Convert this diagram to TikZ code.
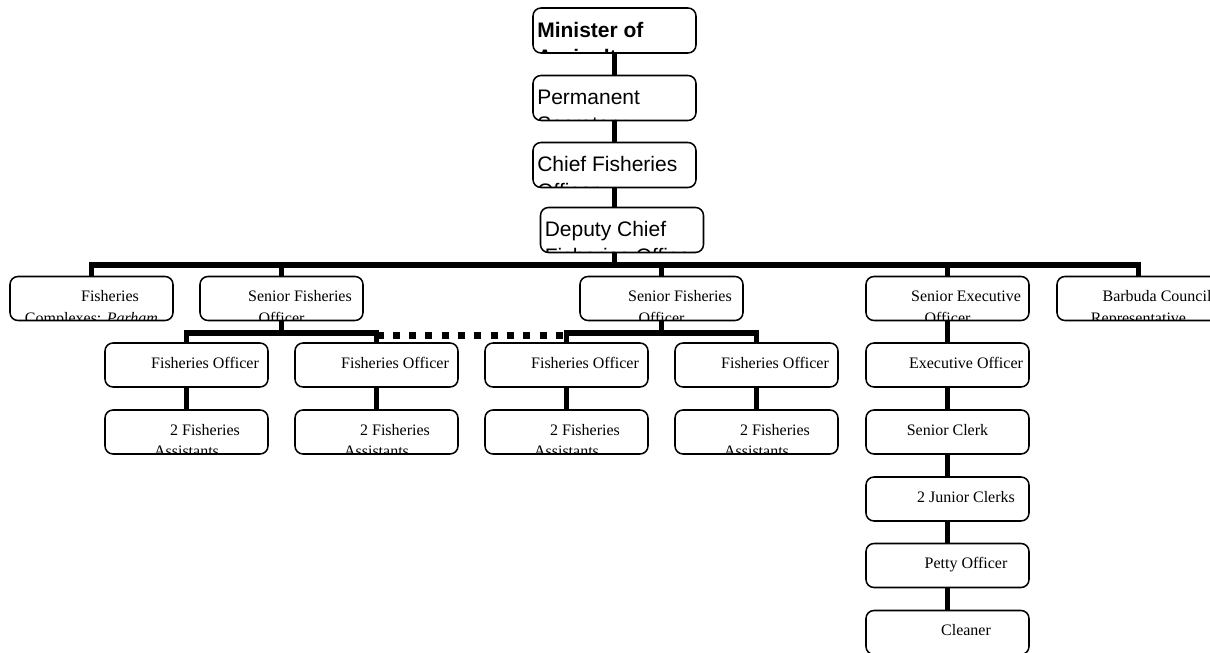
\documentclass[tikz,border=0pt]{standalone}
\usepackage{fontspec}
\setmainfont{Liberation Serif}
\newfontfamily\sansf{Liberation Sans}
\usetikzlibrary{calc}
\tikzset{
 box/.style={draw, line width=1.15pt, rounded corners=6pt, fill=white,
   minimum width=122.25pt, minimum height=33pt, inner sep=0pt, outer sep=0pt},
 topbox/.style={box, minimum height=33.75pt},
 conn/.style={line width=4.2pt},
 dashconn/.style={line width=5.25pt, dash pattern=on 5.25pt off 6.975pt},
 serift/.style={inner sep=0pt, font=\fontsize{12pt}{15pt}\selectfont},
 sanst/.style={inner sep=0pt, font=\sansf\fontsize{15.75pt}{18pt}\selectfont},
}
% sans box text: two lines, left aligned, clipped by the box
\newcommand\sanstext[3]{%
 \begin{scope}
 \clip[rounded corners=6pt] (#1.north west) rectangle (#1.south east);
 \node[sanst, anchor=base west] (#1-a) at ($(#1.north west)+(4,29)$) {#2};
 \node[sanst, anchor=base west] (#1-b) at ($(#1.north west)+(4,56)$) {#3};
 \end{scope}}
% serif box text: two lines
\newcommand\sertwo[3]{%
 \begin{scope}
 \clip[rounded corners=6pt] (#1.north west) rectangle (#1.south east);
 \node[serift, anchor=base] (#1-a) at ($(#1.north)+(18.5,25)$) {#2};
 \node[serift, anchor=base] (#1-b) at ($(#1.north)+(0,46.5)$) {#3};
 \end{scope}}
% serif box text: one line, shifted
\newcommand\serone[3]{%
 \node[serift, anchor=base] (#1-a) at ($(#1.north)+(#2,25)$) {#3};}
\begin{document}
\begin{tikzpicture}[x=0.75pt,y=-0.75pt]
\useasboundingbox (0,0) rectangle (1210,653);
\clip (0,0) rectangle (1210,653);

% top column
\node[topbox] (min)  at (614.5,30.5) {};
\node[topbox] (perm) at (614.5,98) {};
\node[topbox] (cfo)  at (614.5,165) {};
\node[topbox] (dcfo) at (622,230) {};
% level 2
\node[box] (fc)   at (91.5,298.5) {};
\node[box] (sfoA) at (281.5,298.5) {};
\node[box] (sfoB) at (661.5,298.5) {};
\node[box] (seo)  at (947.5,298.5) {};
\node[box] (bc)   at (1138.5,298.5) {};
% level 3
\node[box] (foA) at (186.5,365) {};
\node[box] (foB) at (376.5,365) {};
\node[box] (foC) at (566.5,365) {};
\node[box] (foD) at (756.5,365) {};
\node[box] (eo)  at (947.5,365) {};
% level 4
\node[box] (faA) at (186.5,432) {};
\node[box] (faB) at (376.5,432) {};
\node[box] (faC) at (566.5,432) {};
\node[box] (faD) at (756.5,432) {};
\node[box] (sc)  at (947.5,432) {};
\node[box] (jc)  at (947.5,499) {};
\node[box] (po)  at (947.5,565.5) {};
\node[box] (cl)  at (947.5,632.5) {};

% junction coordinates
\coordinate (bus) at (614.5,265);
\coordinate (jA) at (281.5,333);
\coordinate (jB) at (661.5,333);

% connectors
\draw[conn] (min) -- (perm);
\draw[conn] (perm) -- (cfo);
\draw[conn] (cfo.south) -- (cfo.south |- dcfo.north);
\draw[conn] (cfo.south |- dcfo.south) -- (bus);
\draw[conn] (fc.north) |- (bus) -| (bc.north);
\draw[conn] (sfoA.north) -- (sfoA.north |- bus);
\draw[conn] (sfoB.north) -- (sfoB.north |- bus);
\draw[conn] (seo.north) -- (seo.north |- bus);
\draw[conn] (sfoA.south) -- (jA);
\draw[conn] (sfoB.south) -- (jB);
\draw[conn] (foA.north) |- (jA) -| (foB.north);
\draw[conn] (foC.north) |- (jB) -| (foD.north);
\draw[dashconn] ($(foB.north |- jA)+(0,2)$) -- ($(foC.north |- jB)+(0,2)$);
\draw[conn] (foA) -- (faA);
\draw[conn] (foB) -- (faB);
\draw[conn] (foC) -- (faC);
\draw[conn] (foD) -- (faD);
\draw[conn] (seo) -- (eo);
\draw[conn] (eo) -- (sc);
\draw[conn] (sc) -- (jc);
\draw[conn] (jc) -- (po);
\draw[conn] (po) -- (cl);

% texts
\sanstext{min}{\textbf{Minister of}}{\textbf{Agriculture}}
\sanstext{perm}{Permanent}{Secretary}
\sanstext{cfo}{Chief Fisheries}{Officer}
\sanstext{dcfo}{Deputy Chief}{Fisheries Officer}

\sertwo{fc}{Fisheries}{Complexes: \textit{Parham}}
\sertwo{sfoA}{Senior Fisheries}{Officer}
\sertwo{sfoB}{Senior Fisheries}{Officer}
\sertwo{seo}{Senior Executive}{Officer}
\sertwo{bc}{Barbuda Council}{Representative}

\serone{foA}{18.5}{Fisheries Officer}
\serone{foB}{18.5}{Fisheries Officer}
\serone{foC}{18.5}{Fisheries Officer}
\serone{foD}{18.5}{Fisheries Officer}
\serone{eo}{18.5}{Executive Officer}

\sertwo{faA}{2 Fisheries}{Assistants}
\sertwo{faB}{2 Fisheries}{Assistants}
\sertwo{faC}{2 Fisheries}{Assistants}
\sertwo{faD}{2 Fisheries}{Assistants}

\serone{sc}{0}{Senior Clerk}
\serone{jc}{18.5}{2 Junior Clerks}
\serone{po}{18.5}{Petty Officer}
\serone{cl}{18.5}{Cleaner}
\end{tikzpicture}
\end{document}
